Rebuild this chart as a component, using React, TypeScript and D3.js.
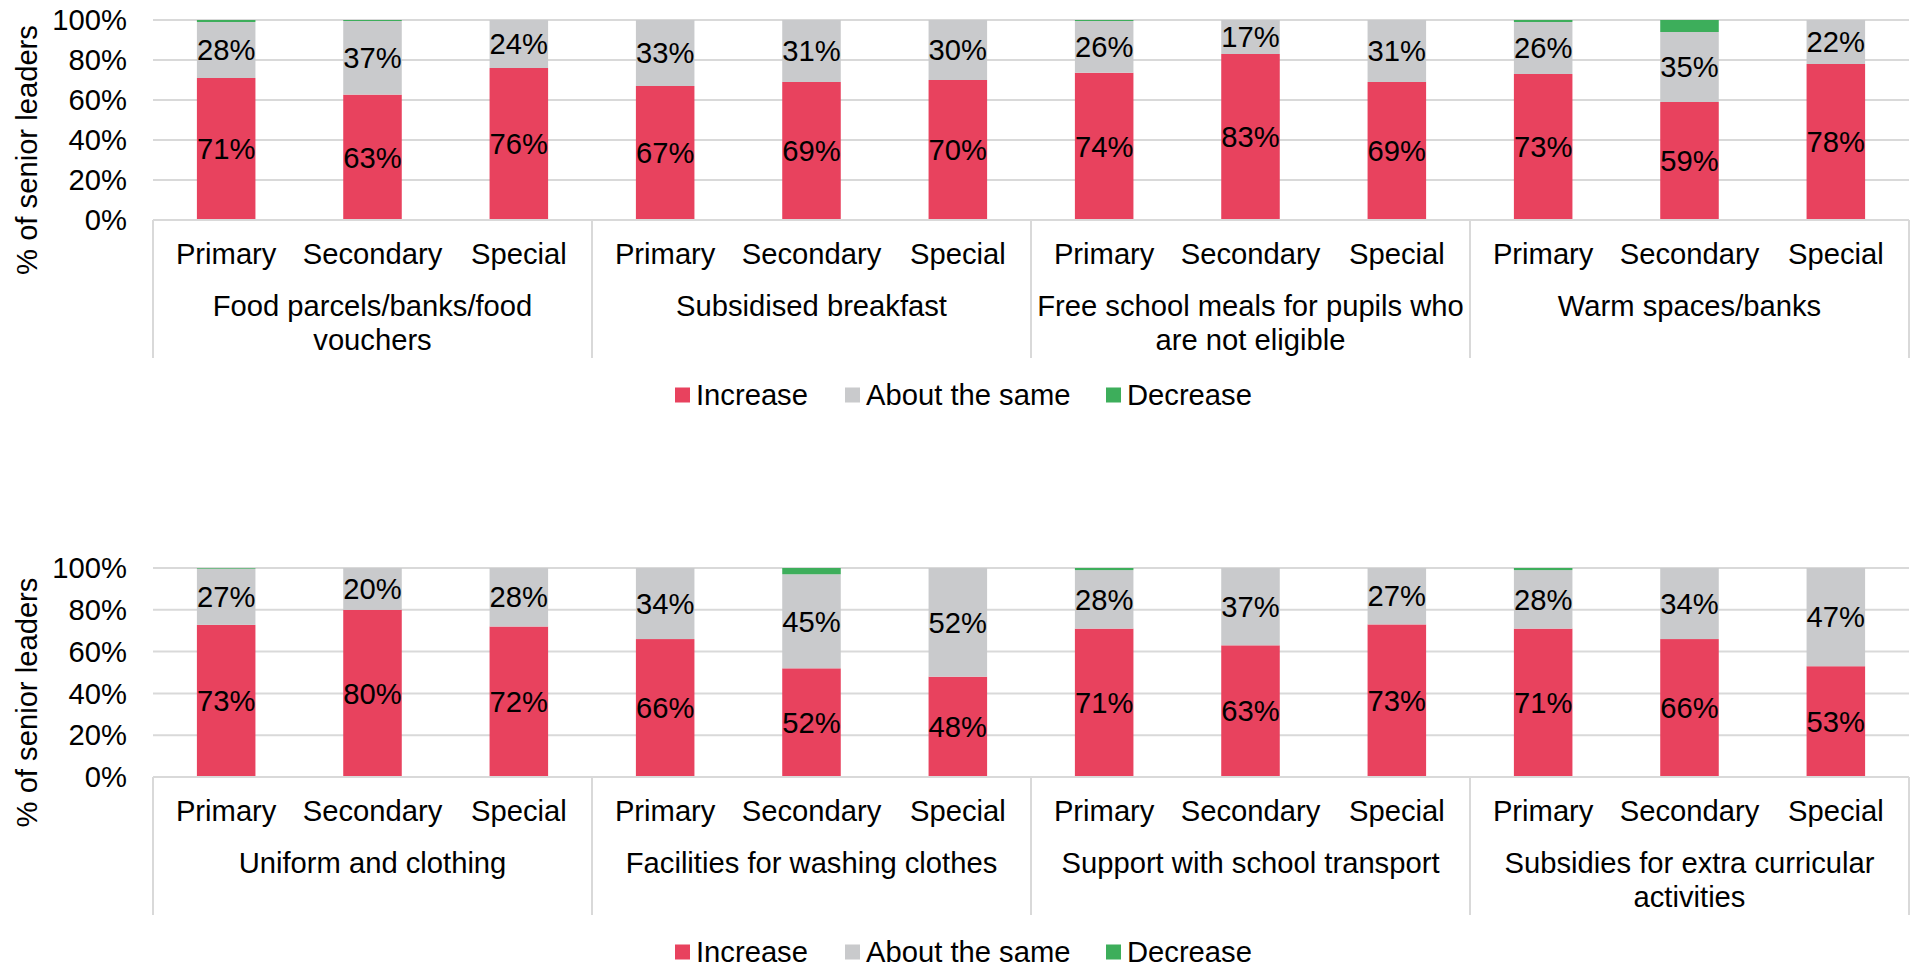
import React from 'react';
import * as d3 from 'd3';

// school phases repeated in every group
const phases = ['Primary', 'Secondary', 'Special'];

// top panel
const topGroups = [
  ['Food parcels/banks/food', 'vouchers'],
  ['Subsidised breakfast'],
  ['Free school meals for pupils who', 'are not eligible'],
  ['Warm spaces/banks'],
];
const topIncrease = [71, 63, 76, 67, 69, 70, 74, 83, 69, 73, 59, 78];
const topSame = [28, 37, 24, 33, 31, 30, 26, 17, 31, 26, 35, 22];
const topDecrease = [1, 0.5, 0, 0, 0, 0, 0.5, 0, 0, 1, 6, 0];

// bottom panel
const bottomGroups = [
  ['Uniform and clothing'],
  ['Facilities for washing clothes'],
  ['Support with school transport'],
  ['Subsidies for extra curricular', 'activities'],
];
const bottomIncrease = [73, 80, 72, 66, 52, 48, 71, 63, 73, 71, 66, 53];
const bottomSame = [27, 20, 28, 34, 45, 52, 28, 37, 27, 28, 34, 47];
const bottomDecrease = [0.3, 0, 0, 0, 3, 0, 1, 0, 0, 1, 0, 0];

const yTicks = [0, 0.2, 0.4, 0.6, 0.8, 1];
const seriesNames = ['Increase', 'About the same', 'Decrease'];
const colors = ['#E8425E', '#C9CACC', '#3DAE5B'];

const W = 1915;
const H = 968;
const FONT = 'Liberation Sans, Arial, sans-serif';
const FS = 29.2;
const GRID = '#D9D9D9';

type PanelProps = {
  increase: number[];
  same: number[];
  decrease: number[];
  groups: string[][];
  top: number;
  bottom: number;
};

const Panel = ({ increase, same, decrease, groups, top, bottom }: PanelProps) => {
  const left = 153;
  const right = 1909;

  const keys = groups.flatMap((g, gi) => phases.map((p) => `${gi}-${p}`));
  const rows = keys.map((k, i) => ({ key: k, phase: phases[i % 3], inc: increase[i], same: same[i], dec: decrease[i] }));

  const x = d3.scaleBand<string>().domain(keys).range([left, right]).paddingInner(0.6).paddingOuter(0.3);
  const y = d3.scaleLinear().domain([0, 1]).range([bottom, top]);

  const stack = d3
    .stack<any>()
    .keys(['inc', 'same', 'dec'])
    .offset(d3.stackOffsetExpand);
  const series = stack(rows);

  const step = x.step();
  const seps = d3.range(groups.length + 1).map((i) => left + i * 3 * step);
  const midY = (top + bottom) / 2 + 30;

  return (
    <g>
      {/* gridlines */}
      {yTicks.map((t) => (
        <g key={t}>
          <line x1={left} x2={right} y1={y(t)} y2={y(t)} stroke={GRID} strokeWidth={2} />
          <text x={127} y={y(t)} dy="0.35em" textAnchor="end" fontSize={FS} fill="#000">
            {d3.format('.0%')(t)}
          </text>
        </g>
      ))}

      <text
        transform={`translate(37,${midY}) rotate(-90)`}
        textAnchor="middle"
        fontSize={FS}
        fill="#000"
      >
        % of senior leaders
      </text>

      {/* bars */}
      {series.map((s, si) =>
        s.map((d: any) => {
          const y0 = y(d[0]);
          const y1 = y(d[1]);
          if (y0 - y1 <= 0) return null;
          return (
            <rect
              key={`${si}-${d.data.key}`}
              x={x(d.data.key)}
              y={y1}
              width={x.bandwidth()}
              height={y0 - y1}
              fill={colors[si]}
            />
          );
        })
      )}

      {/* data labels */}
      {series.slice(0, 2).map((s, si) =>
        s.map((d: any) => (
          <text
            key={`l${si}-${d.data.key}`}
            x={(x(d.data.key) as number) + x.bandwidth() / 2}
            y={(y(d[0]) + y(d[1])) / 2}
            dy="0.35em"
            textAnchor="middle"
            fontSize={FS}
            fill="#000"
          >
            {Math.round(si === 0 ? d.data.inc : d.data.same)}%
          </text>
        ))
      )}

      {/* category axis */}
      <line x1={left} x2={right} y1={bottom} y2={bottom} stroke={GRID} strokeWidth={2} />
      {seps.map((sx, i) => (
        <line key={i} x1={sx} x2={sx} y1={bottom} y2={bottom + 138} stroke={GRID} strokeWidth={2} />
      ))}
      {rows.map((r) => (
        <text
          key={`p-${r.key}`}
          x={(x(r.key) as number) + x.bandwidth() / 2}
          y={bottom + 44}
          textAnchor="middle"
          fontSize={FS}
          fill="#000"
        >
          {r.phase}
        </text>
      ))}
      {groups.map((lines, gi) => (
        <text
          key={`g${gi}`}
          x={(seps[gi] + seps[gi + 1]) / 2}
          y={bottom + 96}
          textAnchor="middle"
          fontSize={FS}
          fill="#000"
        >
          {lines.map((ln, li) => (
            <tspan key={li} x={(seps[gi] + seps[gi + 1]) / 2} dy={li === 0 ? 0 : 34}>
              {ln}
            </tspan>
          ))}
        </text>
      ))}

      <Legend cy={bottom + 175} />
    </g>
  );
};

// legend item offsets
const legendX = [675, 845, 1106];

const Legend = ({ cy }: { cy: number }) => (
  <g>
    {seriesNames.map((n, i) => (
      <g key={n}>
        <rect x={legendX[i]} y={cy - 7.5} width={15} height={15} fill={colors[i]} />
        <text x={legendX[i] + 21} y={cy} dy="0.35em" fontSize={FS} fill="#000">
          {n}
        </text>
      </g>
    ))}
  </g>
);

const App = () => (
  <svg
    width={W}
    height={H}
    style={{ position: 'absolute', left: 0, top: 0, background: '#fff' }}
    fontFamily={FONT}
  >
    <Panel increase={topIncrease} same={topSame} decrease={topDecrease} groups={topGroups} top={20} bottom={220} />
    <Panel
      increase={bottomIncrease}
      same={bottomSame}
      decrease={bottomDecrease}
      groups={bottomGroups}
      top={568}
      bottom={777}
    />
  </svg>
);

export default App;
